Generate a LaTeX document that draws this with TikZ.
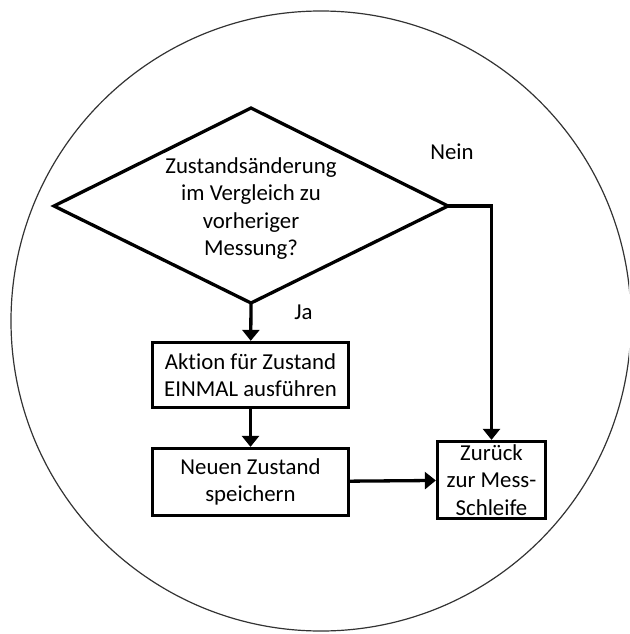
\documentclass[tikz,border=0pt]{standalone}
\usepackage{fontspec}
\setmainfont{Carlito}[Ligatures=NoCommon]
\usetikzlibrary{arrows.meta}
\begin{document}
\begin{tikzpicture}[x=1pt,y=-1pt,
  txt/.style={font=\fontsize{22.8}{27.3}\selectfont, align=center, inner sep=0pt},
  box/.style={draw, line width=3.3pt, txt, inner sep=0pt},
  plain/.style={line width=3.3pt},
  conn/.style={line width=3.3pt, -{Triangle[width=17pt,length=11pt]}}]
\useasboundingbox (0,0) rectangle (629,634);
\begin{scope}
\clip (0,0) rectangle (629,634);
\draw[line width=1.2pt, black!80] (321,321) circle[radius=310pt];
\end{scope}
% decision diamond
\coordinate (dT) at (251,108);
\coordinate (dL) at (54,206);
\coordinate (dR) at (448,206);
\coordinate (dB) at (251,303);
\draw[plain, line join=miter] (dT) -- (dR) -- (dB) -- (dL) -- cycle;
\node[txt] (dq) at (251,208.5) {Zustandsänderung\\im Vergleich zu\\vorheriger\\Messung?};
% boxes
\node[box, minimum width=196pt, minimum height=65pt] (a1) at (250.5,375) {Aktion für Zustand\\EINMAL ausführen};
\node[box, minimum width=196pt, minimum height=67pt] (a2) at (250.5,482) {Neuen Zustand\\speichern};
\node[box, minimum width=108pt, minimum height=77pt] (zr) at (491.5,480) {Zurück\\zur Mess-\\Schleife};
% labels
\node[txt] (nein) at (452,152) {Nein};
\node[txt] (ja) at (303.5,312) {Ja};
% connectors
\draw[conn] (dB) -- (a1);
\draw[conn] (a1) -- (a2);
\draw[conn] (a2) -- (zr);
\draw[conn] (dR) -| (zr);
\end{tikzpicture}
\end{document}
